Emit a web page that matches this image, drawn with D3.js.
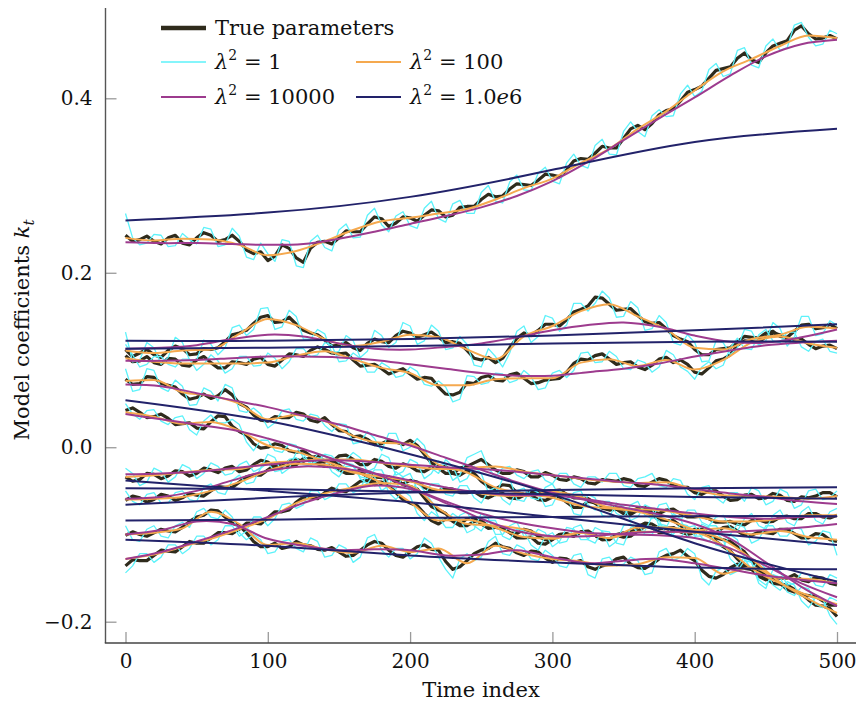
<!DOCTYPE html>
<meta charset="utf-8">
<script src="https://d3js.org/d3.v7.min.js"></script>
<style>
  body { margin: 0; background: #fff; }
  text { font-family: "DejaVu Serif", serif; fill: #111; }
</style>
<div id="my_dataviz"></div>
<script>

// time grids: true / lambda^2=1 read every 10 (+ the in-between steps every 10 offset by 5),
// lambda^2=100 every 20, 1e4 every 25, 1e6 every 100
const tFine = d3.range(0, 501, 10);
const tHalf = d3.range(5, 500, 10);
const tMid = d3.range(0, 501, 20);
const tCoarse = d3.range(0, 501, 25);
const tBig = d3.range(0, 501, 100);

// ---- series A (top) ----
const truthA = [0.243,0.238,0.236,0.240,0.234,0.240,0.243,0.238,0.236,0.222,0.214,0.232,0.217,0.228,0.236,0.240,0.247,0.256,0.262,0.257,0.263,0.266,0.271,0.266,0.276,0.284,0.287,0.296,0.301,0.306,0.312,0.318,0.331,0.337,0.343,0.354,0.369,0.371,0.386,0.397,0.410,0.423,0.434,0.446,0.444,0.452,0.463,0.478,0.474,0.469,0.468];
const truthHalfA = [0.236,0.242,0.233,0.243,0.232,0.246,0.236,0.243,0.226,0.224,0.219,0.228,0.212,0.235,0.233,0.248,0.247,0.264,0.253,0.264,0.259,0.272,0.264,0.275,0.276,0.290,0.288,0.302,0.300,0.313,0.310,0.328,0.330,0.345,0.343,0.365,0.364,0.381,0.388,0.407,0.414,0.432,0.436,0.452,0.441,0.460,0.466,0.483,0.468,0.472];
const lam1A = [0.268,0.232,0.244,0.230,0.245,0.233,0.250,0.232,0.242,0.215,0.222,0.238,0.208,0.236,0.229,0.249,0.240,0.266,0.255,0.265,0.254,0.274,0.262,0.279,0.268,0.292,0.282,0.304,0.295,0.314,0.305,0.326,0.323,0.346,0.336,0.362,0.362,0.380,0.379,0.405,0.402,0.433,0.425,0.455,0.438,0.460,0.455,0.484,0.470,0.462,0.474];
const lam1HalfA = [0.240,0.234,0.243,0.231,0.238,0.252,0.230,0.251,0.218,0.234,0.213,0.236,0.206,0.243,0.225,0.256,0.241,0.274,0.247,0.270,0.251,0.282,0.258,0.283,0.268,0.300,0.280,0.312,0.294,0.321,0.302,0.336,0.320,0.353,0.335,0.373,0.356,0.387,0.380,0.415,0.408,0.440,0.428,0.458,0.435,0.468,0.458,0.487,0.460,0.478];
const lam100A = [0.240,0.237,0.239,0.238,0.232,0.220,0.225,0.236,0.249,0.259,0.263,0.268,0.273,0.284,0.297,0.308,0.326,0.342,0.365,0.385,0.409,0.431,0.445,0.460,0.472,0.469];
const lam1e4A = [0.235,0.234,0.234,0.233,0.232,0.233,0.239,0.247,0.256,0.265,0.275,0.288,0.305,0.327,0.352,0.377,0.401,0.426,0.448,0.462,0.467];
const lam1e6A = [0.260,0.269,0.287,0.318,0.350,0.365];

// ---- series B1 ----
const truthB1 = [0.112,0.108,0.106,0.111,0.113,0.107,0.112,0.121,0.131,0.142,0.151,0.144,0.141,0.131,0.123,0.117,0.114,0.119,0.121,0.128,0.131,0.129,0.126,0.121,0.111,0.100,0.097,0.114,0.131,0.134,0.141,0.146,0.158,0.172,0.164,0.158,0.151,0.142,0.136,0.124,0.112,0.106,0.113,0.121,0.126,0.131,0.127,0.133,0.141,0.137,0.136];
const truthHalfB1 = [0.104,0.112,0.103,0.116,0.106,0.113,0.114,0.129,0.134,0.149,0.143,0.149,0.134,0.129,0.116,0.120,0.111,0.124,0.120,0.133,0.126,0.132,0.120,0.119,0.102,0.103,0.102,0.125,0.128,0.141,0.139,0.155,0.162,0.171,0.157,0.159,0.144,0.143,0.128,0.121,0.106,0.112,0.114,0.127,0.125,0.133,0.126,0.140,0.136,0.141];
const lam1B1 = [0.132,0.100,0.114,0.103,0.120,0.100,0.118,0.114,0.140,0.135,0.160,0.138,0.150,0.124,0.130,0.110,0.122,0.110,0.128,0.120,0.139,0.122,0.133,0.114,0.118,0.092,0.104,0.108,0.139,0.127,0.148,0.140,0.165,0.165,0.171,0.150,0.160,0.136,0.143,0.117,0.120,0.099,0.120,0.114,0.133,0.122,0.136,0.126,0.150,0.130,0.140];
const lam1HalfB1 = [0.098,0.120,0.095,0.126,0.100,0.123,0.106,0.137,0.128,0.159,0.135,0.157,0.124,0.135,0.108,0.128,0.103,0.134,0.114,0.143,0.118,0.140,0.112,0.127,0.094,0.113,0.092,0.133,0.120,0.151,0.133,0.165,0.156,0.179,0.149,0.167,0.134,0.151,0.120,0.129,0.098,0.122,0.106,0.135,0.117,0.143,0.116,0.150,0.128,0.145];
const lam100B1 = [0.111,0.108,0.111,0.112,0.130,0.147,0.140,0.124,0.116,0.121,0.129,0.126,0.112,0.101,0.127,0.139,0.156,0.164,0.150,0.135,0.114,0.112,0.124,0.129,0.138,0.136];
const lam1e4B1 = [0.113,0.114,0.117,0.124,0.129,0.127,0.119,0.113,0.112,0.115,0.119,0.126,0.134,0.140,0.143,0.138,0.128,0.121,0.120,0.126,0.135];
const lam1e6B1 = [0.122,0.122,0.124,0.128,0.134,0.141];

// ---- series B2 ----
const truthB2 = [0.105,0.099,0.097,0.102,0.094,0.100,0.097,0.091,0.097,0.101,0.095,0.100,0.106,0.111,0.112,0.107,0.100,0.094,0.090,0.087,0.084,0.080,0.069,0.060,0.074,0.080,0.077,0.083,0.079,0.074,0.078,0.086,0.101,0.105,0.101,0.097,0.092,0.094,0.103,0.100,0.086,0.091,0.101,0.117,0.121,0.127,0.129,0.124,0.118,0.116,0.113];
const truthHalfB2 = [0.098,0.104,0.095,0.101,0.093,0.104,0.091,0.098,0.095,0.103,0.093,0.107,0.104,0.115,0.108,0.108,0.093,0.095,0.084,0.090,0.078,0.079,0.061,0.063,0.073,0.082,0.076,0.085,0.073,0.077,0.079,0.096,0.100,0.107,0.095,0.098,0.089,0.101,0.097,0.095,0.084,0.099,0.106,0.122,0.120,0.131,0.123,0.124,0.113,0.117];
const lam1B2 = [0.118,0.092,0.104,0.095,0.101,0.088,0.106,0.085,0.104,0.093,0.108,0.090,0.113,0.104,0.120,0.098,0.108,0.086,0.097,0.080,0.092,0.072,0.076,0.052,0.082,0.072,0.085,0.074,0.088,0.066,0.085,0.080,0.108,0.097,0.110,0.090,0.100,0.086,0.111,0.092,0.078,0.098,0.094,0.125,0.112,0.135,0.120,0.132,0.110,0.124,0.108];
const lam1HalfB2 = [0.106,0.095,0.104,0.092,0.101,0.095,0.099,0.090,0.104,0.094,0.102,0.098,0.113,0.106,0.117,0.099,0.102,0.086,0.092,0.082,0.087,0.070,0.069,0.055,0.081,0.074,0.084,0.077,0.081,0.068,0.088,0.088,0.109,0.098,0.104,0.089,0.097,0.092,0.106,0.087,0.092,0.090,0.114,0.113,0.129,0.122,0.132,0.115,0.121,0.110];
const lam100B2 = [0.102,0.098,0.096,0.096,0.096,0.097,0.105,0.110,0.101,0.091,0.085,0.071,0.071,0.078,0.079,0.079,0.097,0.101,0.093,0.100,0.089,0.100,0.120,0.127,0.119,0.114];
const lam1e4B2 = [0.099,0.099,0.100,0.102,0.104,0.104,0.103,0.100,0.095,0.090,0.085,0.082,0.082,0.086,0.090,0.096,0.104,0.111,0.117,0.120,0.122];
const lam1e6B2 = [0.113,0.114,0.116,0.119,0.121,0.121];

// ---- series C ----
const truthC = [0.078,0.073,0.080,0.071,0.061,0.057,0.056,0.066,0.050,0.037,0.030,0.034,0.040,0.031,0.034,0.019,0.012,0.009,0.004,0.006,0.008,-0.008,-0.022,-0.030,-0.027,-0.039,-0.048,-0.044,-0.054,-0.060,-0.057,-0.063,-0.069,-0.064,-0.072,-0.076,-0.072,-0.078,-0.084,-0.090,-0.096,-0.100,-0.106,-0.114,-0.130,-0.148,-0.156,-0.166,-0.175,-0.182,-0.194];
const truthHalfC = [0.072,0.081,0.073,0.069,0.055,0.061,0.059,0.060,0.046,0.031,0.035,0.034,0.038,0.029,0.026,0.018,0.013,0.003,0.008,0.003,0.002,-0.018,-0.022,-0.032,-0.030,-0.045,-0.043,-0.052,-0.055,-0.061,-0.057,-0.069,-0.062,-0.070,-0.071,-0.077,-0.072,-0.083,-0.084,-0.095,-0.096,-0.104,-0.108,-0.120,-0.138,-0.150,-0.163,-0.168,-0.181,-0.185];
const lam1C = [0.090,0.066,0.088,0.064,0.070,0.049,0.064,0.072,0.042,0.045,0.022,0.042,0.032,0.038,0.025,0.027,0.004,0.018,-0.004,0.016,0.000,0.002,-0.030,-0.022,-0.036,-0.030,-0.056,-0.036,-0.062,-0.052,-0.066,-0.055,-0.078,-0.058,-0.080,-0.068,-0.080,-0.070,-0.092,-0.082,-0.104,-0.092,-0.114,-0.106,-0.140,-0.140,-0.164,-0.158,-0.184,-0.174,-0.203];
const lam1HalfC = [0.064,0.090,0.068,0.077,0.048,0.068,0.053,0.068,0.040,0.038,0.028,0.044,0.030,0.036,0.018,0.026,0.006,0.010,0.016,-0.004,0.010,-0.024,-0.014,-0.040,-0.022,-0.052,-0.036,-0.060,-0.048,-0.068,-0.050,-0.076,-0.054,-0.078,-0.064,-0.084,-0.066,-0.090,-0.076,-0.102,-0.088,-0.112,-0.100,-0.128,-0.130,-0.158,-0.154,-0.176,-0.172,-0.193];
const lam100C = [0.076,0.077,0.063,0.059,0.050,0.032,0.037,0.030,0.013,0.005,0.004,-0.020,-0.029,-0.046,-0.053,-0.058,-0.067,-0.070,-0.074,-0.083,-0.095,-0.106,-0.128,-0.155,-0.174,-0.190];
const lam1e4C = [0.072,0.070,0.062,0.054,0.046,0.036,0.026,0.014,0.002,-0.012,-0.026,-0.040,-0.052,-0.061,-0.069,-0.077,-0.088,-0.105,-0.132,-0.160,-0.182];
const lam1e6C = [0.054,0.030,-0.008,-0.054,-0.110,-0.154];

// ---- series D ----
const truthD = [0.042,0.040,0.035,0.033,0.027,0.022,0.029,0.035,0.018,0.004,0.000,0.002,-0.006,-0.010,-0.017,-0.020,-0.028,-0.034,-0.040,-0.052,-0.064,-0.076,-0.088,-0.084,-0.082,-0.088,-0.092,-0.098,-0.104,-0.110,-0.106,-0.100,-0.097,-0.101,-0.105,-0.103,-0.096,-0.092,-0.098,-0.096,-0.098,-0.100,-0.114,-0.128,-0.140,-0.150,-0.157,-0.163,-0.170,-0.176,-0.181];
const truthHalfD = [0.045,0.034,0.038,0.026,0.028,0.021,0.036,0.024,0.014,-0.001,0.004,-0.004,-0.004,-0.016,-0.014,-0.027,-0.028,-0.040,-0.043,-0.060,-0.067,-0.084,-0.082,-0.088,-0.081,-0.093,-0.092,-0.104,-0.103,-0.111,-0.100,-0.102,-0.096,-0.106,-0.101,-0.102,-0.091,-0.098,-0.094,-0.100,-0.096,-0.108,-0.119,-0.136,-0.143,-0.156,-0.158,-0.169,-0.171,-0.181];
const lam1D = [0.050,0.032,0.043,0.026,0.036,0.014,0.037,0.028,0.026,-0.004,0.008,-0.006,0.002,-0.018,-0.009,-0.028,-0.020,-0.042,-0.032,-0.060,-0.056,-0.084,-0.080,-0.092,-0.074,-0.096,-0.084,-0.106,-0.096,-0.118,-0.098,-0.108,-0.089,-0.110,-0.097,-0.112,-0.088,-0.100,-0.090,-0.104,-0.090,-0.108,-0.106,-0.136,-0.132,-0.158,-0.149,-0.170,-0.162,-0.184,-0.176];
const lam1HalfD = [0.038,0.042,0.030,0.034,0.020,0.030,0.028,0.032,0.006,0.008,-0.004,0.004,-0.012,-0.008,-0.022,-0.018,-0.036,-0.030,-0.052,-0.050,-0.076,-0.074,-0.092,-0.078,-0.090,-0.084,-0.102,-0.094,-0.112,-0.102,-0.110,-0.092,-0.106,-0.096,-0.110,-0.092,-0.100,-0.088,-0.102,-0.092,-0.104,-0.098,-0.128,-0.126,-0.152,-0.146,-0.166,-0.160,-0.180,-0.172];
const lam100D = [0.040,0.035,0.027,0.029,0.019,0.002,-0.005,-0.016,-0.027,-0.041,-0.063,-0.084,-0.083,-0.092,-0.103,-0.105,-0.098,-0.104,-0.097,-0.097,-0.098,-0.113,-0.139,-0.156,-0.170,-0.180];
const lam1e4D = [0.038,0.032,0.026,0.020,0.010,-0.002,-0.016,-0.030,-0.046,-0.062,-0.076,-0.086,-0.093,-0.098,-0.100,-0.101,-0.104,-0.116,-0.136,-0.156,-0.172];
const lam1e6D = [-0.038,-0.050,-0.063,-0.080,-0.097,-0.112];

// ---- series E ----
const truthE = [-0.034,-0.037,-0.031,-0.033,-0.028,-0.030,-0.026,-0.024,-0.028,-0.020,-0.017,-0.022,-0.014,-0.012,-0.016,-0.010,-0.014,-0.020,-0.016,-0.024,-0.022,-0.028,-0.024,-0.030,-0.022,-0.014,-0.026,-0.030,-0.028,-0.034,-0.032,-0.038,-0.036,-0.042,-0.038,-0.036,-0.044,-0.040,-0.038,-0.046,-0.052,-0.050,-0.056,-0.060,-0.054,-0.058,-0.055,-0.062,-0.058,-0.052,-0.057];
const truthHalfE = [-0.039,-0.030,-0.036,-0.027,-0.033,-0.024,-0.029,-0.022,-0.026,-0.015,-0.023,-0.016,-0.016,-0.010,-0.017,-0.009,-0.020,-0.014,-0.022,-0.019,-0.027,-0.023,-0.030,-0.024,-0.018,-0.020,-0.030,-0.026,-0.034,-0.029,-0.037,-0.034,-0.041,-0.037,-0.039,-0.038,-0.045,-0.036,-0.044,-0.046,-0.054,-0.050,-0.061,-0.055,-0.059,-0.053,-0.061,-0.057,-0.056,-0.052];
const lam1E = [-0.024,-0.044,-0.024,-0.040,-0.020,-0.036,-0.018,-0.032,-0.020,-0.028,-0.008,-0.030,-0.006,-0.020,-0.008,-0.018,-0.006,-0.028,-0.008,-0.032,-0.014,-0.036,-0.016,-0.038,-0.012,-0.004,-0.034,-0.022,-0.036,-0.026,-0.042,-0.030,-0.046,-0.034,-0.030,-0.044,-0.036,-0.030,-0.046,-0.038,-0.060,-0.044,-0.064,-0.052,-0.046,-0.066,-0.048,-0.070,-0.050,-0.060,-0.050];
const lam1HalfE = [-0.030,-0.040,-0.028,-0.034,-0.024,-0.030,-0.022,-0.030,-0.016,-0.024,-0.012,-0.024,-0.008,-0.016,-0.010,-0.014,-0.012,-0.024,-0.012,-0.028,-0.018,-0.030,-0.020,-0.032,-0.008,-0.024,-0.024,-0.032,-0.028,-0.038,-0.030,-0.042,-0.034,-0.040,-0.030,-0.046,-0.034,-0.044,-0.036,-0.054,-0.046,-0.058,-0.052,-0.062,-0.050,-0.062,-0.052,-0.066,-0.048,-0.058];
const lam100E = [-0.034,-0.032,-0.029,-0.026,-0.025,-0.018,-0.016,-0.014,-0.014,-0.018,-0.022,-0.025,-0.024,-0.022,-0.028,-0.032,-0.036,-0.039,-0.041,-0.040,-0.049,-0.055,-0.056,-0.057,-0.059,-0.056];
const lam1e4E = [-0.031,-0.030,-0.028,-0.024,-0.020,-0.016,-0.015,-0.017,-0.020,-0.023,-0.025,-0.028,-0.032,-0.036,-0.040,-0.043,-0.048,-0.053,-0.057,-0.062,-0.065];
const lam1e6E = [-0.066,-0.058,-0.052,-0.049,-0.047,-0.046];

// ---- series F ----
const truthF = [-0.061,-0.058,-0.060,-0.056,-0.058,-0.055,-0.050,-0.046,-0.040,-0.032,-0.026,-0.018,-0.020,-0.014,-0.022,-0.026,-0.030,-0.028,-0.035,-0.040,-0.038,-0.046,-0.050,-0.048,-0.052,-0.056,-0.054,-0.058,-0.055,-0.052,-0.050,-0.054,-0.058,-0.064,-0.070,-0.072,-0.070,-0.074,-0.072,-0.076,-0.080,-0.082,-0.086,-0.088,-0.084,-0.086,-0.080,-0.082,-0.076,-0.080,-0.078];
const truthHalfF = [-0.056,-0.063,-0.054,-0.061,-0.053,-0.056,-0.045,-0.046,-0.034,-0.032,-0.020,-0.022,-0.013,-0.019,-0.021,-0.030,-0.026,-0.034,-0.034,-0.042,-0.040,-0.050,-0.047,-0.052,-0.051,-0.058,-0.053,-0.059,-0.051,-0.054,-0.049,-0.058,-0.059,-0.069,-0.069,-0.074,-0.069,-0.076,-0.071,-0.080,-0.079,-0.086,-0.085,-0.089,-0.083,-0.085,-0.079,-0.082,-0.076,-0.081];
const lam1F = [-0.050,-0.066,-0.052,-0.064,-0.050,-0.062,-0.042,-0.054,-0.032,-0.040,-0.018,-0.026,-0.012,-0.022,-0.014,-0.034,-0.022,-0.036,-0.026,-0.048,-0.030,-0.054,-0.042,-0.056,-0.044,-0.064,-0.046,-0.066,-0.047,-0.060,-0.042,-0.062,-0.050,-0.072,-0.062,-0.080,-0.062,-0.082,-0.064,-0.084,-0.072,-0.090,-0.078,-0.096,-0.076,-0.094,-0.072,-0.090,-0.068,-0.088,-0.070];
const lam1HalfF = [-0.062,-0.054,-0.064,-0.052,-0.060,-0.046,-0.052,-0.038,-0.042,-0.024,-0.028,-0.014,-0.020,-0.012,-0.028,-0.022,-0.034,-0.026,-0.042,-0.034,-0.048,-0.042,-0.054,-0.044,-0.058,-0.050,-0.060,-0.050,-0.058,-0.046,-0.056,-0.052,-0.066,-0.062,-0.076,-0.066,-0.078,-0.066,-0.080,-0.072,-0.086,-0.080,-0.092,-0.082,-0.090,-0.078,-0.086,-0.074,-0.084,-0.074];
const lam100F = [-0.060,-0.059,-0.057,-0.050,-0.040,-0.027,-0.019,-0.020,-0.029,-0.034,-0.039,-0.049,-0.051,-0.055,-0.056,-0.051,-0.057,-0.069,-0.071,-0.073,-0.079,-0.085,-0.085,-0.082,-0.078,-0.078];
const lam1e4F = [-0.059,-0.057,-0.050,-0.038,-0.027,-0.022,-0.024,-0.030,-0.038,-0.046,-0.052,-0.055,-0.055,-0.060,-0.066,-0.071,-0.076,-0.080,-0.082,-0.080,-0.079];
const lam1e6F = [-0.047,-0.048,-0.051,-0.054,-0.057,-0.059];

// ---- series G ----
const truthG = [-0.101,-0.100,-0.098,-0.096,-0.092,-0.080,-0.072,-0.080,-0.090,-0.108,-0.114,-0.116,-0.108,-0.113,-0.118,-0.120,-0.124,-0.112,-0.110,-0.124,-0.120,-0.112,-0.118,-0.140,-0.130,-0.118,-0.110,-0.116,-0.124,-0.120,-0.132,-0.128,-0.130,-0.140,-0.134,-0.126,-0.138,-0.134,-0.124,-0.118,-0.130,-0.148,-0.146,-0.134,-0.140,-0.152,-0.150,-0.146,-0.154,-0.150,-0.158];
const truthHalfG = [-0.097,-0.102,-0.094,-0.097,-0.085,-0.078,-0.073,-0.087,-0.098,-0.114,-0.110,-0.114,-0.112,-0.117,-0.115,-0.125,-0.118,-0.108,-0.118,-0.126,-0.114,-0.117,-0.131,-0.137,-0.122,-0.116,-0.114,-0.121,-0.119,-0.127,-0.127,-0.132,-0.137,-0.136,-0.128,-0.134,-0.139,-0.128,-0.122,-0.125,-0.141,-0.150,-0.138,-0.139,-0.148,-0.149,-0.150,-0.152,-0.149,-0.156];
const lam1G = [-0.090,-0.108,-0.090,-0.104,-0.086,-0.074,-0.080,-0.072,-0.098,-0.100,-0.122,-0.108,-0.116,-0.104,-0.126,-0.112,-0.132,-0.104,-0.118,-0.116,-0.128,-0.104,-0.126,-0.150,-0.122,-0.126,-0.102,-0.124,-0.116,-0.130,-0.124,-0.138,-0.122,-0.150,-0.126,-0.134,-0.130,-0.144,-0.116,-0.126,-0.122,-0.158,-0.138,-0.142,-0.132,-0.162,-0.142,-0.156,-0.146,-0.160,-0.150];
const lam1HalfG = [-0.106,-0.094,-0.102,-0.090,-0.092,-0.070,-0.082,-0.080,-0.106,-0.106,-0.120,-0.106,-0.120,-0.108,-0.124,-0.116,-0.126,-0.100,-0.126,-0.116,-0.122,-0.110,-0.140,-0.128,-0.130,-0.108,-0.122,-0.112,-0.128,-0.118,-0.136,-0.124,-0.146,-0.128,-0.136,-0.126,-0.146,-0.120,-0.130,-0.116,-0.150,-0.142,-0.146,-0.130,-0.156,-0.140,-0.158,-0.144,-0.158,-0.146];
const lam100G = [-0.100,-0.098,-0.093,-0.074,-0.088,-0.112,-0.110,-0.117,-0.121,-0.113,-0.120,-0.116,-0.133,-0.113,-0.122,-0.128,-0.131,-0.136,-0.134,-0.126,-0.127,-0.145,-0.138,-0.150,-0.151,-0.156];
const lam1e4G = [-0.100,-0.095,-0.085,-0.088,-0.105,-0.113,-0.118,-0.117,-0.118,-0.124,-0.123,-0.118,-0.126,-0.133,-0.130,-0.128,-0.133,-0.140,-0.147,-0.152,-0.156];
const lam1e6G = [-0.106,-0.113,-0.124,-0.132,-0.138,-0.140];

// ---- series H ----
const truthH = [-0.136,-0.130,-0.124,-0.119,-0.114,-0.110,-0.104,-0.098,-0.094,-0.087,-0.081,-0.074,-0.063,-0.058,-0.052,-0.050,-0.045,-0.038,-0.042,-0.036,-0.045,-0.058,-0.072,-0.085,-0.090,-0.084,-0.092,-0.098,-0.094,-0.102,-0.105,-0.099,-0.097,-0.101,-0.106,-0.098,-0.091,-0.088,-0.093,-0.097,-0.094,-0.099,-0.092,-0.096,-0.101,-0.098,-0.094,-0.099,-0.104,-0.100,-0.108];
const truthHalfH = [-0.129,-0.130,-0.118,-0.120,-0.108,-0.110,-0.098,-0.099,-0.087,-0.088,-0.074,-0.072,-0.057,-0.059,-0.047,-0.051,-0.039,-0.043,-0.035,-0.043,-0.048,-0.068,-0.076,-0.090,-0.085,-0.091,-0.093,-0.099,-0.096,-0.106,-0.100,-0.102,-0.097,-0.106,-0.100,-0.097,-0.087,-0.093,-0.092,-0.099,-0.094,-0.098,-0.091,-0.101,-0.097,-0.099,-0.094,-0.104,-0.099,-0.106];
const lam1H = [-0.144,-0.122,-0.132,-0.112,-0.122,-0.102,-0.112,-0.090,-0.102,-0.080,-0.090,-0.066,-0.070,-0.050,-0.060,-0.042,-0.052,-0.030,-0.050,-0.028,-0.052,-0.050,-0.080,-0.076,-0.098,-0.076,-0.100,-0.090,-0.102,-0.094,-0.114,-0.092,-0.106,-0.092,-0.114,-0.090,-0.098,-0.080,-0.100,-0.088,-0.102,-0.090,-0.100,-0.088,-0.110,-0.090,-0.102,-0.092,-0.112,-0.096,-0.124];
const lam1HalfH = [-0.136,-0.122,-0.126,-0.112,-0.116,-0.102,-0.106,-0.090,-0.096,-0.080,-0.082,-0.064,-0.066,-0.050,-0.056,-0.042,-0.048,-0.034,-0.044,-0.034,-0.040,-0.062,-0.084,-0.082,-0.094,-0.082,-0.100,-0.086,-0.104,-0.098,-0.108,-0.094,-0.106,-0.096,-0.108,-0.088,-0.096,-0.084,-0.100,-0.090,-0.102,-0.090,-0.100,-0.092,-0.106,-0.090,-0.102,-0.094,-0.108,-0.098];
const lam100H = [-0.128,-0.123,-0.114,-0.105,-0.094,-0.082,-0.064,-0.053,-0.046,-0.041,-0.044,-0.070,-0.088,-0.090,-0.094,-0.103,-0.098,-0.104,-0.092,-0.092,-0.095,-0.093,-0.100,-0.096,-0.103,-0.106];
const lam1e4H = [-0.128,-0.120,-0.108,-0.095,-0.080,-0.064,-0.052,-0.044,-0.048,-0.064,-0.082,-0.096,-0.102,-0.102,-0.099,-0.097,-0.097,-0.097,-0.095,-0.092,-0.088];
const lam1e6H = [-0.084,-0.083,-0.081,-0.080,-0.079,-0.079];

const xTicks = [0, 100, 200, 300, 400, 500];
const yTicks = [-0.2, 0, 0.2, 0.4];

// pair values with their time steps; two readings of one curve are merged in time order
function pts(t, v) { return v.map(function (d, i) { return { t: t[i], v: d } }) }
function merged(a, b) { return pts(tFine, a).concat(pts(tHalf, b)).sort(function (p, q) { return p.t - q.t }) }

// layers, drawn in this order
const layers = [
  { name: "True parameters", color: "#2f2b1c", width: 3.2, curve: d3.curveLinear,
    data: [merged(truthA, truthHalfA), merged(truthB1, truthHalfB1), merged(truthB2, truthHalfB2), merged(truthC, truthHalfC), merged(truthD, truthHalfD), merged(truthE, truthHalfE), merged(truthF, truthHalfF), merged(truthG, truthHalfG), merged(truthH, truthHalfH)] },
  { name: "1", color: "#5cf2fa", width: 1.3, curve: d3.curveLinear,
    data: [merged(lam1A, lam1HalfA), merged(lam1B1, lam1HalfB1), merged(lam1B2, lam1HalfB2), merged(lam1C, lam1HalfC), merged(lam1D, lam1HalfD), merged(lam1E, lam1HalfE), merged(lam1F, lam1HalfF), merged(lam1G, lam1HalfG), merged(lam1H, lam1HalfH)] },
  { name: "100", color: "#f5a94f", width: 2, curve: d3.curveMonotoneX,
    data: [lam100A, lam100B1, lam100B2, lam100C, lam100D, lam100E, lam100F, lam100G, lam100H].map(function (v) { return pts(tMid, v) }) },
  { name: "10000", color: "#9d3b8e", width: 2, curve: d3.curveCatmullRom,
    data: [lam1e4A, lam1e4B1, lam1e4B2, lam1e4C, lam1e4D, lam1e4E, lam1e4F, lam1e4G, lam1e4H].map(function (v) { return pts(tCoarse, v) }) },
  { name: "1.0e6", color: "#22226a", width: 2, curve: d3.curveNatural,
    data: [lam1e6A, lam1e6B1, lam1e6B2, lam1e6C, lam1e6D, lam1e6E, lam1e6F, lam1e6G, lam1e6H].map(function (v) { return pts(tBig, v) }) }
];

const width = 860, height = 707;
const svg = d3.select("#my_dataviz")
  .append("svg")
  .attr("width", width)
  .attr("height", height);

const x = d3.scaleLinear().domain([0, 500]).range([125.5, 837]);
const y = d3.scaleLinear().domain([-0.2, 0.4]).range([621.7, 98.3]);

const axisX = 105.5, axisY = 643;

// lines
layers.forEach(function (layer) {
  const line = d3.line()
    .x(function (d) { return x(d.t) })
    .y(function (d) { return y(d.v) })
    .curve(layer.curve);
  svg.append("g")
    .selectAll("path")
    .data(layer.data)
    .join("path")
    .attr("d", line)
    .attr("fill", "none")
    .attr("stroke", layer.color)
    .attr("stroke-width", layer.width)
    .attr("stroke-linejoin", "round");
});

// axes
const gx = svg.append("g")
  .attr("transform", `translate(0, ${axisY})`)
  .call(d3.axisBottom(x).tickValues(xTicks).tickSize(-11).tickPadding(11));
const gy = svg.append("g")
  .attr("transform", `translate(${axisX}, 0)`)
  .call(d3.axisLeft(y).tickValues(yTicks).tickFormat(d3.format(".1f")).tickSize(-11).tickPadding(13));
[gx, gy].forEach(function (g) {
  g.select(".domain").remove();
  g.selectAll(".tick line").attr("stroke", "#9a9a9a").attr("stroke-width", 1.3);
  g.selectAll(".tick text").attr("fill", "#111").style("font-size", "20px").style("font-family", "DejaVu Serif");
});

svg.append("line")
  .attr("x1", axisX).attr("x2", axisX).attr("y1", 8).attr("y2", axisY)
  .attr("stroke", "#555").attr("stroke-width", 1.4);
svg.append("line")
  .attr("x1", axisX - 0.7).attr("x2", 856).attr("y1", axisY).attr("y2", axisY)
  .attr("stroke", "#444").attr("stroke-width", 1.4);

// axis labels
svg.append("text")
  .attr("x", 481).attr("y", 697)
  .attr("text-anchor", "middle")
  .style("font-size", "21px")
  .text("Time index");

const yl = svg.append("text")
  .attr("transform", "translate(29, 330) rotate(-90)")
  .attr("text-anchor", "middle")
  .style("font-size", "21px");
yl.append("tspan").text("Model coefficients ");
yl.append("tspan").attr("font-style", "italic").text("k");
yl.append("tspan").attr("font-style", "italic").attr("font-size", "15px").attr("dy", 5).text("t");

// legend
const legendItems = [
  { layer: 0, lx: 161, ly: 28 },
  { layer: 1, lx: 161, ly: 62 },
  { layer: 2, lx: 356, ly: 62 },
  { layer: 3, lx: 161, ly: 97 },
  { layer: 4, lx: 356, ly: 97 }
];
const legend = svg.append("g");
legendItems.forEach(function (it) {
  const layer = layers[it.layer];
  legend.append("line")
    .attr("x1", it.lx).attr("x2", it.lx + 45)
    .attr("y1", it.ly).attr("y2", it.ly)
    .attr("stroke", layer.color)
    .attr("stroke-width", it.layer === 0 ? 4.5 : layer.width);
  const txt = legend.append("text")
    .attr("x", it.lx + 54).attr("y", it.ly + 7)
    .style("font-size", "21px");
  if (it.layer === 0) {
    txt.text(layer.name);
  } else {
    txt.append("tspan").attr("font-style", "italic").text("λ");
    txt.append("tspan").attr("font-size", "14px").attr("dy", -9).text("2");
    txt.append("tspan").attr("dy", 9).text(" = ");
    if (layer.name === "1.0e6") {
      txt.append("tspan").text("1.0");
      txt.append("tspan").attr("font-style", "italic").text("e");
      txt.append("tspan").text("6");
    } else {
      txt.append("tspan").text(layer.name);
    }
  }
});

</script>
